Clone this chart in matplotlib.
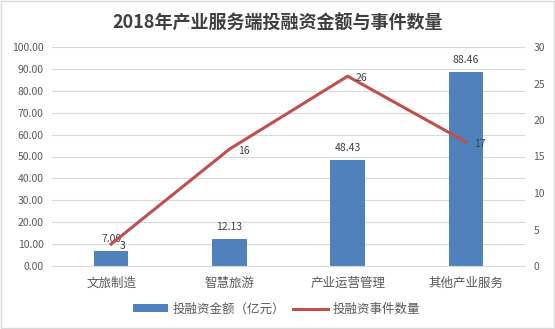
import matplotlib.pyplot as plt
import numpy as np

plt.rcParams['font.family'] = ['Noto Sans CJK SC', 'DejaVu Sans']

categories = ['文旅制造', '智慧旅游', '产业运营管理', '其他产业服务']
amounts = [7.00, 12.13, 48.43, 88.46]
events = [3, 16, 26, 17]

bar_color = '#4F81BD'
line_color = '#C0504D'
text_color = '#595959'

fig = plt.figure(figsize=(5.55, 3.29), dpi=100)
fig.patches.append(plt.Rectangle((0.001, 0.002), 0.997, 0.995, transform=fig.transFigure,
                                 fill=False, edgecolor='#D9D9D9', linewidth=1))
ax = fig.add_axes([52 / 555, 1 - 266 / 329, 473 / 555, 219 / 329])
ax2 = ax.twinx()

x = np.arange(len(categories))
bars = ax.bar(x, amounts, width=0.29, color=bar_color, zorder=2, label='投融资金额（亿元）')
for xi, v in zip(x, amounts):
    ax.text(xi, v + 3.2, f'{v:.2f}', ha='center', va='bottom', fontsize=7.5, color='#404040')

line, = ax2.plot(x, events, color=line_color, linewidth=2.2, zorder=3, label='投融资事件数量')
for xi, v in zip(x, events):
    ax2.text(xi + 0.07, v - 0.3, str(v), ha='left', va='center', fontsize=7.5, color='#404040')

ax.set_xlim(-0.5, 3.5)
ax.set_ylim(0, 100)
ax.set_yticks(np.arange(0, 101, 10))
ax.set_yticklabels([f'{t:.2f}' for t in np.arange(0, 101, 10)])
ax2.set_ylim(0, 30)
ax2.set_yticks(np.arange(0, 31, 5))

ax.set_xticks(x)
ax.set_xticklabels(categories)
ax.grid(axis='y', color='#D9D9D9', linewidth=0.8, zorder=0)
ax.set_axisbelow(True)

for a in (ax, ax2):
    for s in a.spines.values():
        s.set_visible(False)
    a.tick_params(length=0, colors=text_color, labelsize=7.5)
ax.spines['bottom'].set_visible(True)
ax.spines['bottom'].set_color('#D9D9D9')
ax.tick_params(axis='x', labelsize=9, pad=8)
ax.tick_params(axis='y', pad=6)
ax2.tick_params(axis='y', pad=6)

fig.text(0.5, 0.928, '2018年产业服务端投融资金额与事件数量', ha='center', va='center',
         fontsize=13, fontweight='bold', color='#404040')

fig.legend(handles=[bars, line], loc='center', bbox_to_anchor=(0.498, 0.06), ncol=2,
           frameon=False, fontsize=9, labelcolor=text_color, handlelength=2.8,
           handleheight=0.6, columnspacing=0.6, handletextpad=0.4)

fig.savefig('out.png', dpi=100)
